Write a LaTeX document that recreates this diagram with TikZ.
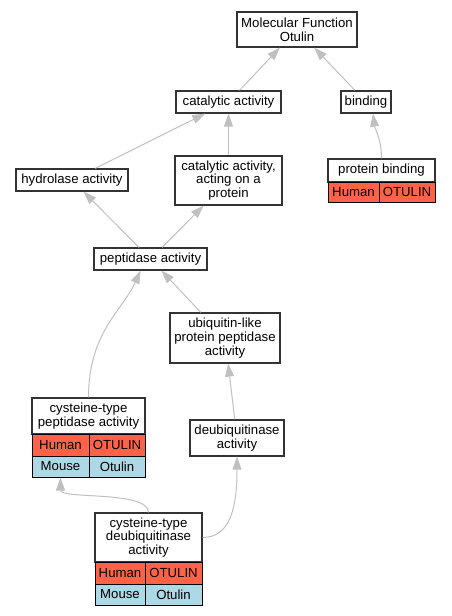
\documentclass[tikz,border=0pt]{standalone}
\usepackage{fontspec}
\setmainfont{Liberation Sans}
\usetikzlibrary{arrows.meta}
\definecolor{human}{HTML}{FF6347}
\definecolor{mouse}{HTML}{ADD8E6}
\definecolor{edgegray}{HTML}{C0C0C0}

\begin{document}
\begin{tikzpicture}[x=1pt,y=-1pt,
  font=\fontsize{13.2}{13.6}\selectfont,
  term/.style 2 args={draw=black!80, line width=1.2pt, fill=white, align=center, inner sep=0pt, minimum width=#1pt, minimum height=#2pt},
  cell/.style 2 args={draw=black, line width=1pt, inner sep=0pt, minimum width=#1pt, minimum height=#2pt},
  isa/.style={draw=edgegray, line width=1pt, -{Triangle[length=13pt,width=9pt]}}]
\useasboundingbox (0,0) rectangle (451,616);

\node[term={120}{35}] (mf) at (297,29.5) {Molecular Function\\Otulin};
\node[term={105}{22}] (cat) at (228.5,102) {catalytic activity};
\node[term={50}{22}] (bind) at (366,102) {binding};
\node[term={112}{22}] (hyd) at (72,180) {hydrolase activity};
\node[term={107}{49}] (catp) at (228.5,180.5) {catalytic activity,\\acting on a\\protein};
\node[term={113}{22}] (pep) at (150.5,259) {peptidase activity};
\node[term={110}{50}] (ubl) at (225,338) {ubiquitin-like\\protein peptidase\\activity};
\node[term={94}{36}] (deub) at (237,438) {deubiquitinase\\activity};

% protein binding
\node[term={107}{23}] (pbh) at (381.5,170.5) {protein binding};
\node[cell={51}{20}, fill=human] (pbhs) at (353.5,192) {Human};
\node[cell={56}{20}, fill=human] (pbhg) at (407,192) {OTULIN};

% cysteine-type peptidase activity
\node[term={113}{36}] (cph) at (88.5,416) {cysteine-type\\peptidase activity};
\node[cell={57}{22}, fill=human] (cphs) at (60.5,445) {Human};
\node[cell={56}{22}, fill=human] (cphg) at (117,445) {OTULIN};
\node[cell={57}{21}, fill=mouse] (cpms) at (60.5,466.5) {Mouse};
\node[cell={56}{21}, fill=mouse] (cpmg) at (117,466.5) {Otulin};

% cysteine-type deubiquitinase activity
\node[term={107}{49}] (cdh) at (148.5,537.5) {cysteine-type\\deubiquitinase\\activity};
\node[cell={50}{22}, fill=human] (cdhs) at (120,573) {Human};
\node[cell={57}{22}, fill=human] (cdhg) at (173.5,573) {OTULIN};
\node[cell={50}{21}, fill=mouse] (cdms) at (120,594.5) {Mouse};
\node[cell={57}{21}, fill=mouse] (cdmg) at (173.5,594.5) {Otulin};

\draw[isa] (cat) -- (mf);
\draw[isa] (bind) -- (mf);
\draw[isa] (pbh.north) .. controls +(0,-20) and +(2,16) .. ([xshift=7pt]bind.south);
\draw[isa] (hyd) -- (cat);
\draw[isa] (catp) -- (cat);
\draw[isa] (pep) -- (hyd);
\draw[isa] (pep) -- (catp);
\draw[isa] (ubl) -- (pep);
\draw[isa] (cph.north) .. controls +(0,-65) and +(-18,40) .. ([xshift=-10pt]pep.south);
\draw[isa] (deub) -- (ubl);
\draw[isa] (cdh.north) .. controls +(0,-22) and +(0,22) .. (cpms.south);
\draw[isa] (cdh.east) .. controls +(30,0) and +(0,45) .. (deub.south);
\end{tikzpicture}
\end{document}
